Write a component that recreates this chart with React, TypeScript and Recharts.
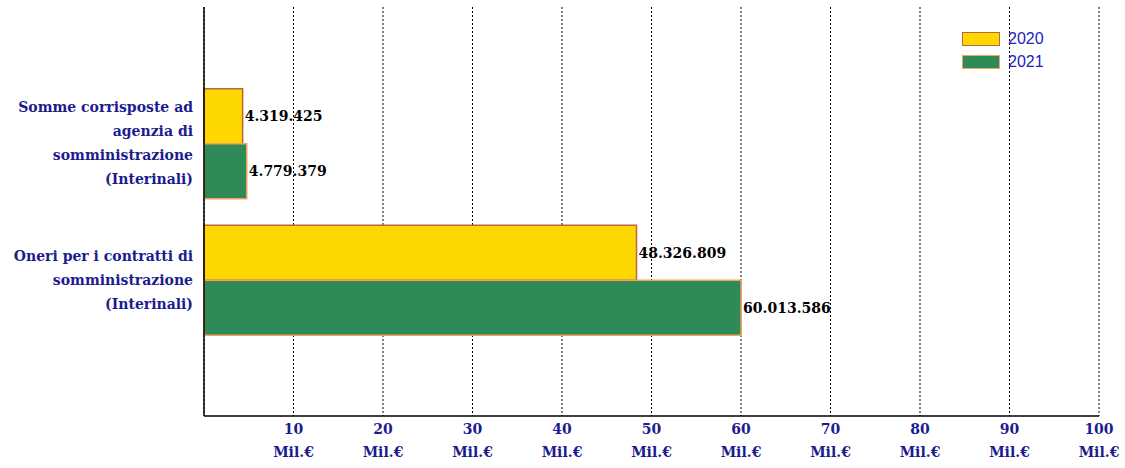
import React from "react";
import { BarChart, Bar, XAxis, YAxis, CartesianGrid, LabelList } from "recharts";

const categories = [
  "Somme corrisposte ad|agenzia di|somministrazione|(Interinali)",
  "Oneri per i contratti di|somministrazione|(Interinali)",
];
const seriesNames = ["2020", "2021"];
const values2020 = [4319425, 48326809];
const values2021 = [4779379, 60013586];
const xTicks = [10, 20, 30, 40, 50, 60, 70, 80, 90, 100].map((v) => v * 1000000);

const data = categories.map((name, i) => ({ name, y2020: values2020[i], y2021: values2021[i] }));

const NAVY = "#1c1c8f";
const SERIF = "'DejaVu Serif', serif";
const FILLS = ["#ffd700", "#2e8b57"];
const STROKES = ["#b8663c", "#f4a460"];

const fmt = (v: number) => Math.round(v).toString().replace(/\B(?=(\d{3})+(?!\d))/g, ".");

const YTick = (props: any) => {
  const { x, y, payload } = props;
  const lines = String(payload.value).split("|");
  const lh = 24;
  const start = y - ((lines.length - 1) * lh) / 2;
  return (
    <g>
      {lines.map((l: string, i: number) => (
        <text key={i} x={x - 3} y={start + i * lh} textAnchor="end" dominantBaseline="central" fill={NAVY} fontFamily={SERIF} fontSize={14} fontWeight="bold">
          {l}
        </text>
      ))}
    </g>
  );
};

const XTick = (props: any) => {
  const { x, y, payload } = props;
  return (
    <g>
      <text x={x} y={y + 5} textAnchor="middle" dominantBaseline="central" fill={NAVY} fontFamily={SERIF} fontSize={14} fontWeight="bold">
        {payload.value / 1000000}
      </text>
      <text x={x} y={y + 28} textAnchor="middle" dominantBaseline="central" fill={NAVY} fontFamily={SERIF} fontSize={14} fontWeight="bold">
        Mil.€
      </text>
    </g>
  );
};

export default function App() {
  return (
    <div style={{ position: "absolute", left: 0, top: 0, width: 1125, height: 468, background: "#fff" }}>
      <BarChart
        width={1125}
        height={468}
        data={data}
        layout="vertical"
        margin={{ top: 7, right: 26, bottom: 0, left: 0 }}
        barCategoryGap="10%"
        barGap={0}
      >
        <CartesianGrid horizontal={false} vertical={true} stroke="#000" strokeDasharray="2 2" />
        <XAxis
          type="number"
          domain={[0, 100000000]}
          ticks={xTicks}
          axisLine={{ stroke: "#000", strokeWidth: 1.5 }}
          tickLine={false}
          tick={<XTick />}
          height={52}
          interval={0}
        />
        <YAxis
          type="category"
          dataKey="name"
          width={204}
          axisLine={{ stroke: "#000", strokeWidth: 1.5 }}
          tickLine={false}
          tick={<YTick />}
          padding={{ top: 68, bottom: 68 }}
          interval={0}
        />
        <Bar dataKey="y2020" name={seriesNames[0]} fill={FILLS[0]} stroke={STROKES[0]} strokeWidth={1.5} isAnimationActive={false}>
          <LabelList dataKey="y2020" position="right" offset={2} formatter={(v: any) => fmt(Number(v))} fill="#000" fontFamily={SERIF} fontSize={14} fontWeight="bold" />
        </Bar>
        <Bar dataKey="y2021" name={seriesNames[1]} fill={FILLS[1]} stroke={STROKES[1]} strokeWidth={1.5} isAnimationActive={false}>
          <LabelList dataKey="y2021" position="right" offset={2} formatter={(v: any) => fmt(Number(v))} fill="#000" fontFamily={SERIF} fontSize={14} fontWeight="bold" />
        </Bar>
      </BarChart>
      <div style={{ position: "absolute", left: 962, top: 27 }}>
        {seriesNames.map((n, i) => (
          <div key={n} style={{ display: "flex", alignItems: "center", height: 23 }}>
            <div style={{ width: 36, height: 12, background: FILLS[i], border: `1px solid ${STROKES[i]}`, marginRight: 8 }} />
            <span style={{ color: "#2222bb", fontFamily: "'Liberation Sans', Arial, sans-serif", fontSize: 16 }}>{n}</span>
          </div>
        ))}
      </div>
    </div>
  );
}
